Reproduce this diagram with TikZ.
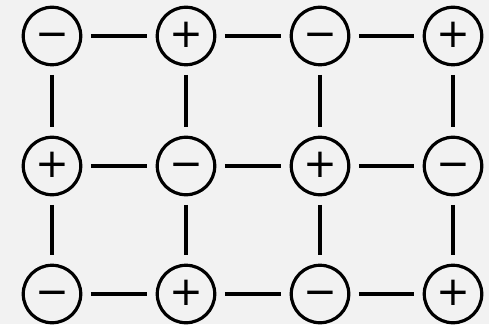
\documentclass[tikz,border=0pt]{standalone}
\usepackage{fontspec}
\newfontfamily\signfont{DejaVu Sans}
\begin{document}
\begin{tikzpicture}[x=1mm,y=-1mm,
  ion/.style={circle,draw,line width=0.32mm,minimum size=5.75mm,inner sep=0pt,
    text height=0.64em,text depth=0pt,
    font=\signfont\fontsize{11.5}{11.5}\selectfont},
  bond/.style={line width=0.32mm,shorten >=0.85mm,shorten <=0.85mm}]
\fill[black!5] (0,0) rectangle (48.9,32.4);
\useasboundingbox (0,0) rectangle (48.9,32.4);
% row 1
\node[ion] (a1) at (5.2,3.6) {−};
\node[ion] (a2) at (18.6,3.6) {+};
\node[ion] (a3) at (32.0,3.6) {−};
\node[ion] (a4) at (45.3,3.6) {+};
% row 2
\node[ion] (b1) at (5.2,16.6) {+};
\node[ion] (b2) at (18.6,16.6) {−};
\node[ion] (b3) at (32.0,16.6) {+};
\node[ion] (b4) at (45.3,16.6) {−};
% row 3
\node[ion] (c1) at (5.2,29.4) {−};
\node[ion] (c2) at (18.6,29.4) {+};
\node[ion] (c3) at (32.0,29.4) {−};
\node[ion] (c4) at (45.3,29.4) {+};
% horizontal bonds
\foreach \r in {a,b,c}{
  \draw[bond] (\r1) -- (\r2);
  \draw[bond] (\r2) -- (\r3);
  \draw[bond] (\r3) -- (\r4);
}
% vertical bonds
\foreach \c in {1,2,3,4}{
  \draw[bond] (a\c) -- (b\c);
  \draw[bond] (b\c) -- (c\c);
}
\end{tikzpicture}
\end{document}
